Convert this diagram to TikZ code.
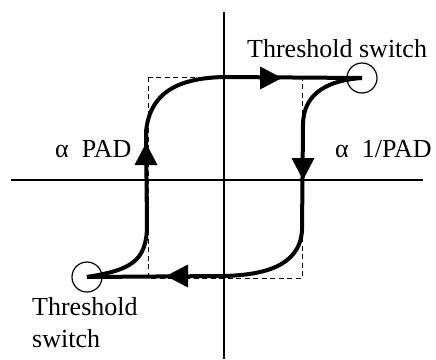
\documentclass[tikz,border=0pt]{standalone}
\usepackage{fontspec}
\setmainfont{Liberation Serif}
\usetikzlibrary{arrows.meta}
\begin{document}
\begin{tikzpicture}[x=1pt,y=-1pt,
  axis/.style={line width=1.2pt},
  loop/.style={line width=4pt,line join=round},
  box/.style={line width=1pt,dash pattern=on 5pt off 3.5pt},
  ring/.style={circle,draw,line width=1.2pt,minimum size=30pt,inner sep=0pt},
  tip/.style={-{Triangle[length=22pt,width=23pt]},line width=0.1pt},
  lbl/.style={inner sep=0pt,font=\fontsize{26}{30}\selectfont}]
\useasboundingbox (0,0) rectangle (436,359);
% axes
\coordinate (vt) at (224,12); \coordinate (vb) at (224,359);
\coordinate (hl) at (11,180); \coordinate (hr) at (423,180);
\draw[axis] (vt) -- (vb);
\draw[axis] (hl) -- (hr);
% dashed box
\coordinate (b1) at (148,77); \coordinate (b2) at (302,278);
\draw[box] (b1) rectangle (b2);
% threshold circles
\node[ring] (tr) at (362,78) {};
\node[ring] (bl) at (87,277) {};
% loop
\draw[loop] (bl.center) .. controls (130,270) and (147,262) .. (147,225)
  -- (146,132) .. controls (150,88) and (185,78) .. (224,77) -- (tr.center);
\draw[loop] (tr.center) .. controls (330,80) and (303,92) .. (303,125)
  -- (302,230) .. controls (300,268) and (260,275) .. (224,276) -- (bl.center);
% arrowheads
\coordinate (a1s) at (146,170); \coordinate (a1e) at (146,143);
\coordinate (a2s) at (255,78); \coordinate (a2e) at (282,78);
\coordinate (a3s) at (303,152); \coordinate (a3e) at (303,180);
\coordinate (a4s) at (193,276); \coordinate (a4e) at (166,276);
\fill (a1e) -- ++(-11.5,22) -- ++(23,0) -- cycle;
\fill (a2e) -- ++(-22,-11.5) -- ++(0,23) -- cycle;
\fill (a3e) -- ++(-11.5,-22) -- ++(23,0) -- cycle;
\fill (a4e) -- ++(22,-11.5) -- ++(0,23) -- cycle;
% labels
\node[lbl,anchor=base west] (t1) at (247,57) {Threshold switch};
\node[lbl,anchor=base west] (p1) at (55,157) {α\hspace{0.5em}PAD};
\node[lbl,anchor=base west] (p2) at (335,157) {α\hspace{0.5em}1/PAD};
\node[lbl,anchor=base west] (t2) at (32,315) {Threshold};
\node[lbl,anchor=base west] (t3) at (32,347) {switch};
\end{tikzpicture}
\end{document}
